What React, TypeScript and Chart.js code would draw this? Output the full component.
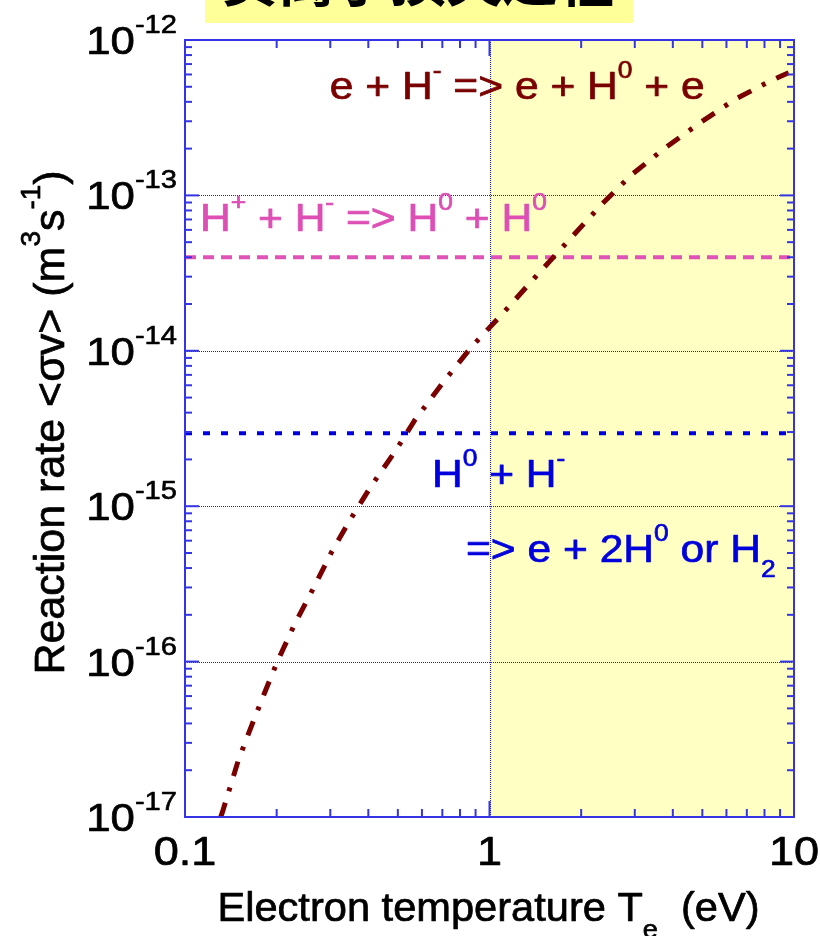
import React, { useEffect, useRef } from 'react';
import { Chart, registerables } from 'chart.js';

Chart.register(...registerables);

// ---------- data ----------
const electronTemperature = [0.131, 0.1326, 0.1496, 0.1656, 0.183, 0.201, 0.2297, 0.2637, 0.3031, 0.348, 0.407, 0.489, 0.569, 0.714, 0.873, 1.12, 1.405, 1.786, 2.33, 2.93, 3.77, 4.91, 6.39, 8.33, 9.6];
const detachmentRate = [1.0e-17, 1.07e-17, 2.31e-17, 3.89e-17, 6.37e-17, 1.0e-16, 1.76e-16, 2.95e-16, 5.08e-16, 8.13e-16, 1.33e-15, 2.24e-15, 3.59e-15, 6.49e-15, 1.06e-14, 1.79e-14, 2.94e-14, 4.93e-14, 8.71e-14, 1.36e-13, 2.02e-13, 2.93e-13, 4.14e-13, 5.43e-13, 6.15e-13];
const mutualNeutralizationRate = 4.0e-14;
const associativeDetachmentRate = 2.95e-15;
const xRange = [0.1, 10];
const yRange = [1e-17, 1e-12];
const shadedRange = [1, 10];
const xMajorTicks = [0.1, 1, 10];
const xTickLabels = ['0.1', '1', '10'];
const yMajorTicks = [1e-17, 1e-16, 1e-15, 1e-14, 1e-13, 1e-12];
const yTickExponents = ['-17', '-16', '-15', '-14', '-13', '-12'];
const slideTitle = '负离子损失过程';

const FONT = '"Liberation Sans", Arial, Helvetica, sans-serif';

type Seg = { t: string; s?: 'sup' | 'sub' };

function drawRich(
  ctx: CanvasRenderingContext2D,
  segs: Seg[],
  x: number,
  y: number,
  size: number,
  color: string,
  align: 'left' | 'center' | 'right',
  opts: { sx?: number; supRatio?: number; supRaise?: number; subDrop?: number; rotate?: number; stroke?: number } = {}
) {
  const sx = opts.sx ?? 1;
  const supRatio = opts.supRatio ?? 0.6;
  const supRaise = opts.supRaise ?? 0.62;
  const subDrop = opts.subDrop ?? 0.3;
  const fontFor = (seg: Seg) => `${seg.s ? size * supRatio : size}px ${FONT}`;
  let w = 0;
  const widths: number[] = [];
  for (const seg of segs) {
    ctx.font = fontFor(seg);
    const m = ctx.measureText(seg.t).width;
    widths.push(m);
    w += m;
  }
  ctx.save();
  ctx.translate(x, y);
  if (opts.rotate) ctx.rotate(opts.rotate);
  ctx.scale(sx, 1);
  let cx = align === 'left' ? 0 : align === 'center' ? -w / 2 : -w;
  ctx.fillStyle = color;
  ctx.strokeStyle = color;
  ctx.lineWidth = opts.stroke ?? 0.7;
  ctx.lineJoin = 'round';
  ctx.textBaseline = 'alphabetic';
  ctx.textAlign = 'left';
  segs.forEach((seg, i) => {
    ctx.font = fontFor(seg);
    const dy = seg.s === 'sup' ? -size * supRaise : seg.s === 'sub' ? size * subDrop : 0;
    ctx.fillText(seg.t, cx, dy);
    if (ctx.lineWidth > 0) ctx.strokeText(seg.t, cx, dy);
    cx += widths[i];
  });
  ctx.restore();
}

const decorPlugin = {
  id: 'decor',
  beforeDatasetsDraw(chart: any) {
    const { ctx, chartArea: a, scales } = chart;
    const x = scales.x;
    const y = scales.y;
    ctx.save();
    // shaded region
    const sx0 = x.getPixelForValue(shadedRange[0]);
    const sx1 = x.getPixelForValue(shadedRange[1]);
    ctx.fillStyle = '#ffffc4';
    ctx.fillRect(sx0, a.top, sx1 - sx0, a.bottom - a.top);
    // grid
    ctx.strokeStyle = '#1a1aff';
    ctx.lineWidth = 1;
    ctx.setLineDash([1, 1]);
    yMajorTicks.slice(1, -1).forEach((v) => {
      const py = Math.round(y.getPixelForValue(v)) + 0.5;
      ctx.beginPath();
      ctx.moveTo(a.left, py);
      ctx.lineTo(a.right, py);
      ctx.stroke();
    });
    xMajorTicks.slice(1, -1).forEach((v) => {
      const px = Math.round(x.getPixelForValue(v)) + 0.5;
      ctx.beginPath();
      ctx.moveTo(px, a.top);
      ctx.lineTo(px, a.bottom);
      ctx.stroke();
    });
    ctx.restore();
  },
  afterDatasetsDraw(chart: any) {
    const { ctx, chartArea: a, scales } = chart;
    const x = scales.x;
    const y = scales.y;
    ctx.save();
    // ticks
    ctx.strokeStyle = '#3434e4';
    ctx.lineWidth = 2;
    ctx.setLineDash([]);
    const tick = (x1: number, y1: number, x2: number, y2: number) => {
      ctx.beginPath();
      ctx.moveTo(x1, y1);
      ctx.lineTo(x2, y2);
      ctx.stroke();
    };
    const xMinor: number[] = [];
    xMajorTicks.slice(0, -1).forEach((d) => {
      for (let k = 2; k <= 9; k++) xMinor.push(k * d);
    });
    const yMinor: number[] = [];
    yMajorTicks.slice(0, -1).forEach((d) => {
      for (let k = 2; k <= 9; k++) yMinor.push(k * d);
    });
    const xT = (v: number, len: number) => {
      const px = x.getPixelForValue(v);
      tick(px, a.bottom, px, a.bottom - len);
      tick(px, a.top, px, a.top + len);
    };
    const yT = (v: number, len: number) => {
      const py = y.getPixelForValue(v);
      tick(a.left, py, a.left + len, py);
      tick(a.right, py, a.right - len, py);
    };
    xMinor.forEach((v) => xT(v, 8));
    xMajorTicks.forEach((v) => xT(v, 16));
    yMinor.forEach((v) => yT(v, 7));
    yMajorTicks.forEach((v) => yT(v, 14));
    // border
    ctx.strokeStyle = '#3434e4';
    ctx.lineWidth = 2;
    ctx.strokeRect(a.left, a.top, a.right - a.left, a.bottom - a.top);

    // y tick labels
    yMajorTicks.forEach((v, i) => {
      const py = y.getPixelForValue(v);
      ctx.font = `26px ${FONT}`;
      const supW = ctx.measureText(yTickExponents[i]).width * 1.12;
      const right = a.left - 8;
      drawRich(ctx, [{ t: yTickExponents[i] }], right, py - 7, 26, '#000', 'right', { sx: 1.12, stroke: 0.6 });
      drawRich(ctx, [{ t: '10' }], right - supW, py + 14, 38, '#000', 'right', { sx: 1.15, stroke: 0.7 });
    });
    // x tick labels
    xMajorTicks.forEach((v, i) => {
      const px = x.getPixelForValue(v);
      drawRich(ctx, [{ t: xTickLabels[i] }], px, a.bottom + 48, 41, '#000', 'center', { sx: 1.1 });
    });
    // axis titles
    drawRich(
      ctx,
      [{ t: 'Electron temperature T' }, { t: 'e', s: 'sub' }, { t: '  (eV)' }],
      (a.left + a.right) / 2 - 1,
      a.bottom + 104,
      40,
      '#000',
      'center',
      { sx: 1.04, supRatio: 0.65, subDrop: 0.42 }
    );
    drawRich(
      ctx,
      [{ t: 'Reaction rate <σv> (m' }, { t: '3', s: 'sup' }, { t: 's' }, { t: '-1', s: 'sup' }, { t: ')' }],
      64,
      (a.top + a.bottom) / 2 - 6,
      43,
      '#000',
      'center',
      { rotate: -Math.PI / 2, supRatio: 0.65, supRaise: 0.55 }
    );

    // annotations (anchored in data coordinates)
    const annot = { supRatio: 0.62, supRaise: 0.55, subDrop: 0.4, sx: 1.12 };
    drawRich(
      ctx,
      [{ t: 'e + H' }, { t: '-', s: 'sup' }, { t: ' => e + H' }, { t: '0', s: 'sup' }, { t: ' + e' }],
      x.getPixelForValue(0.299),
      y.getPixelForValue(4.2e-13),
      38,
      '#7a0000',
      'left',
      annot
    );
    drawRich(
      ctx,
      [{ t: 'H' }, { t: '+', s: 'sup' }, { t: ' + H' }, { t: '-', s: 'sup' }, { t: ' => H' }, { t: '0', s: 'sup' }, { t: ' + H' }, { t: '0', s: 'sup' }],
      x.getPixelForValue(0.112),
      y.getPixelForValue(5.92e-14),
      38,
      '#dd4fb4',
      'left',
      annot
    );
    drawRich(
      ctx,
      [{ t: 'H' }, { t: '0', s: 'sup' }, { t: ' + H' }, { t: '-', s: 'sup' }],
      x.getPixelForValue(0.647),
      y.getPixelForValue(1.33e-15),
      38,
      '#0000dd',
      'left',
      annot
    );
    drawRich(
      ctx,
      [{ t: '=> e + 2H' }, { t: '0', s: 'sup' }, { t: ' or H' }, { t: '2', s: 'sub' }],
      x.getPixelForValue(0.837),
      y.getPixelForValue(4.37e-16),
      38,
      '#0000dd',
      'left',
      annot
    );

    // slide title box (cut off at the top of the page)
    ctx.beginPath();
    ctx.rect(205, 0, 428, 23);
    ctx.fillStyle = '#ffff99';
    ctx.fill();
    ctx.clip();
    ctx.fillStyle = '#000';
    ctx.font = `bold 56px "Noto Sans CJK SC", sans-serif`;
    ctx.textAlign = 'left';
    ctx.textBaseline = 'alphabetic';
    ctx.fillText(slideTitle, 222, 1);
    ctx.restore();
  },
};

export default function App() {
  const ref = useRef<HTMLCanvasElement | null>(null);
  useEffect(() => {
    if (!ref.current) return;
    const pts = (xs: number[], ys: number[]) => xs.map((v, i) => ({ x: v, y: ys[i] }));
    const chart = new Chart(ref.current, {
      type: 'line',
      data: {
        datasets: [
          {
            label: 'e + H- => e + H0 + e',
            data: pts(electronTemperature, detachmentRate),
            borderColor: '#7a0000',
            borderWidth: 5,
            borderDash: [15, 12, 4, 12],
            pointRadius: 0,
            fill: false,
            tension: 0,
          },
          {
            label: 'H+ + H- => H0 + H0',
            data: pts(xRange, xRange.map(() => mutualNeutralizationRate)),
            borderColor: '#e052b8',
            borderWidth: 4,
            borderDash: [11, 7],
            pointRadius: 0,
            fill: false,
          },
          {
            label: 'H0 + H- => e + 2H0 or H2',
            data: pts(xRange, xRange.map(() => associativeDetachmentRate)),
            borderColor: '#0000dd',
            borderWidth: 4,
            borderDash: [7, 11],
            pointRadius: 0,
            fill: false,
          },
        ],
      },
      options: {
        responsive: false,
        animation: false,
        devicePixelRatio: 1,
        layout: { padding: { left: 185, right: 26, top: 40, bottom: 119 } },
        plugins: { legend: { display: false }, tooltip: { enabled: false } },
        scales: {
          x: { type: 'logarithmic', min: xRange[0], max: xRange[1], display: false },
          y: { type: 'logarithmic', min: yRange[0], max: yRange[1], display: false },
        },
      },
      plugins: [decorPlugin],
    });
    return () => chart.destroy();
  }, []);
  return (
    <div style={{ position: 'absolute', left: 0, top: 0, width: 820, height: 936, background: '#fff' }}>
      <canvas ref={ref} width={820} height={936} />
    </div>
  );
}
